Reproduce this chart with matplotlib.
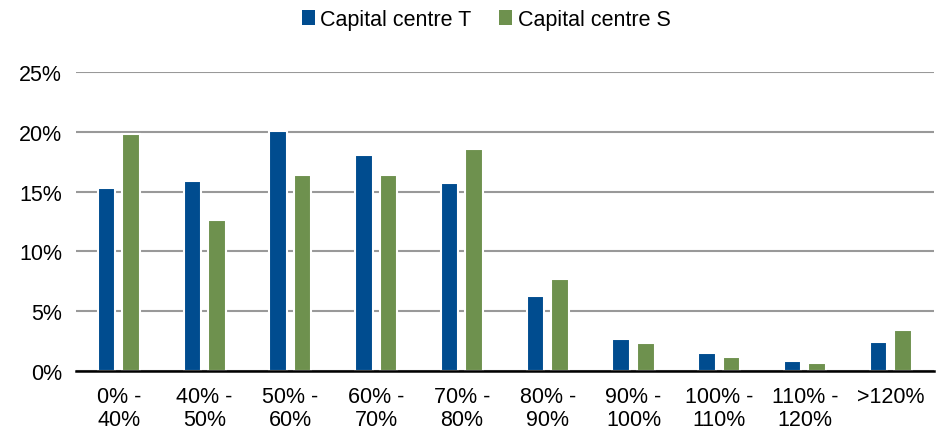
import numpy as np
import matplotlib.pyplot as plt
from matplotlib.ticker import FuncFormatter

plt.rcParams.update({
    'font.family': ['Liberation Sans', 'DejaVu Sans'],
    'font.size': 15.5,
})

# ── Data ─────────────────────────────────────────────────────────────────────
categories = ['0% -\n40%', '40% -\n50%', '50% -\n60%', '60% -\n70%', '70% -\n80%',
              '80% -\n90%', '90% -\n100%', '100% -\n110%', '110% -\n120%', '>120%']
centre_t = [15.3, 15.9, 20.1, 18.1, 15.7, 6.25, 2.7, 1.5, 0.85, 2.4]
centre_s = [19.8, 12.65, 16.35, 16.35, 18.6, 7.65, 2.35, 1.15, 0.65, 3.4]

COL_T = '#004C8F'
COL_S = '#6E914E'

fig = plt.figure(figsize=(9.44, 4.35), dpi=100)
ax = fig.add_axes([0.0805, 0.145, 0.9085, 0.687])

x = np.arange(len(categories))
w = 0.205
off = 0.143
ax.bar(x - off, centre_t, w, color=COL_T, edgecolor='white', linewidth=1.5,
       label='Capital centre T', zorder=3)
ax.bar(x + off, centre_s, w, color=COL_S, edgecolor='white', linewidth=1.5,
       label='Capital centre S', zorder=3)

ax.set_xlim(-0.5, len(categories) - 0.5)
ax.set_ylim(0, 25)
ax.set_yticks(range(0, 26, 5))
ax.yaxis.set_major_formatter(FuncFormatter(lambda v, p: f'{v:.0f}%'))
ax.set_xticks(x)
ax.set_xticklabels(categories, linespacing=1.1)
ax.tick_params(axis='both', length=0, colors='black')
ax.tick_params(axis='x', pad=11)
ax.tick_params(axis='y', pad=10)

ax.yaxis.grid(True, color='#999999', linewidth=1.5, zorder=0)
ax.set_axisbelow(True)
for s in ['top', 'right', 'left']:
    ax.spines[s].set_visible(False)
ax.spines['bottom'].set_color('black')
ax.spines['bottom'].set_linewidth(1.8)
ax.spines['bottom'].set_zorder(4)

leg = fig.legend(loc='center', bbox_to_anchor=(0.515, 0.953), ncol=2, frameon=False,
                 handlelength=0.6, handleheight=0.75, handletextpad=0.25,
                 columnspacing=1.3)
for h in leg.legend_handles:
    h.set_linewidth(0)

plt.savefig('out.png', dpi=100, facecolor='white')
plt.close()
